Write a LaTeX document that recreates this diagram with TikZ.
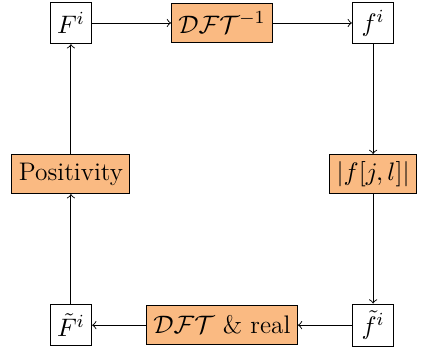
\documentclass[tikz,border=0pt]{standalone}
\usepackage{xcolor}
\usepackage{tikz}
\usetikzlibrary{positioning, calc}
\definecolor{stepfill}{HTML}{FABA82}

\begin{document}
\begin{tikzpicture}[
    every node/.style={font=\fontsize{11}{13}\selectfont},
    plain/.style={draw, fill=white, minimum height=18pt, minimum width=18pt, inner sep=3pt},
    stage/.style={draw, fill=stepfill, minimum height=17pt, inner sep=3pt},
    flow/.style={->, thin}]
  \useasboundingbox (-1.08,0.35) rectangle (5.39,-5.03);
  % Corner states
  \node[plain] (Fi) at (0,0) {$F^i$};
  \node[plain] (fi) at (4.6,0) {$f^i$};
  \node[plain] (ftil) at (4.6,-4.6) {$\tilde{f}^i$};
  \node[plain] (Ftil) at (0,-4.6) {$\tilde{F}^i$};
  % Operations
  \node[stage] (idft) at (2.3,0) {$\mathcal{DFT}^{-1}$};
  \node[stage] (modulus) at (4.6,-2.3) {$|f[j,l]|$};
  \node[stage] (dftreal) at (2.3,-4.6) {$\mathcal{DFT}$ \& real};
  \node[stage] (positive) at (0,-2.3) {Positivity};
  % Loop
  \draw[flow] (Fi) -- (idft);
  \draw[flow] (idft) -- (fi);
  \draw[flow] (fi) -- (modulus);
  \draw[flow] (modulus) -- (ftil);
  \draw[flow] (ftil) -- (dftreal);
  \draw[flow] (dftreal) -- (Ftil);
  \draw[flow] (Ftil) -- (positive);
  \draw[flow] (positive) -- (Fi);
\end{tikzpicture}
\end{document}
